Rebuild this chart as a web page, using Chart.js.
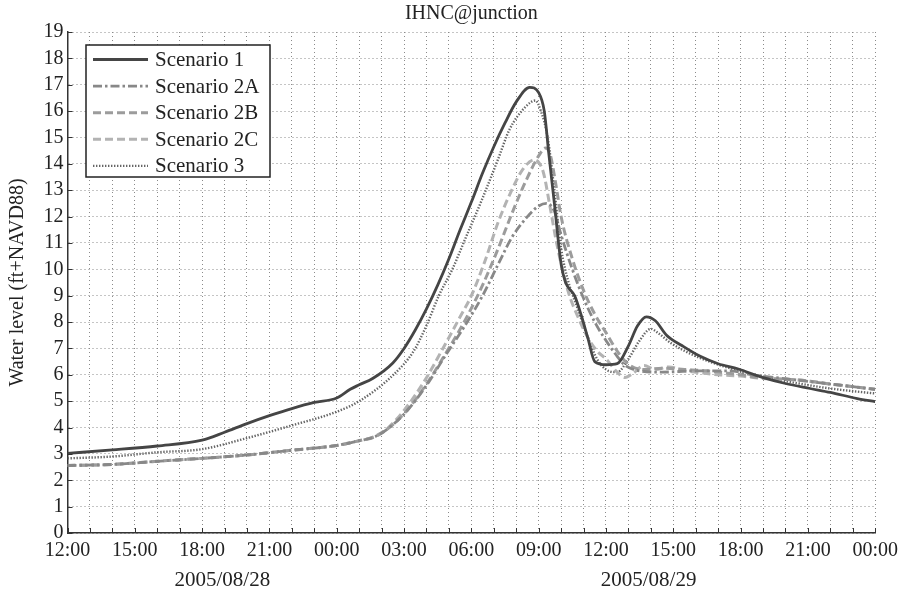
<!DOCTYPE html>
<html>
<head>
<meta charset="utf-8">
<script src="https://cdn.jsdelivr.net/npm/chart.js@4.4.1/dist/chart.umd.min.js"></script>
<style>
html,body{margin:0;padding:0;background:#fff;}
#c{display:block;}
</style>
</head>
<body>
<canvas id="c" width="904" height="593"></canvas>
<script>
// ---------- data ----------
const chartTitle = 'IHNC@junction';
const yAxisTitle = 'Water level (ft+NAVD88)';
const seriesNames = ['Scenario 1', 'Scenario 2A', 'Scenario 2B', 'Scenario 2C', 'Scenario 3'];
// x axis: hours since 2005/08/28 12:00, labels every 3 hours
const timeTickLabels = ['12:00','15:00','18:00','21:00','00:00','03:00','06:00','09:00','12:00','15:00','18:00','21:00','00:00'];
const dateLabels = ['2005/08/28', '2005/08/29'];
const dateLabelHours = [6.9, 25.9];
const yTickValues = [0,1,2,3,4,5,6,7,8,9,10,11,12,13,14,15,16,17,18,19];

const s1Hours  = [0,2,4,6,7,8,9,10,11,12,12.6,13,13.6,14.5,15,15.5,16,16.5,17,17.5,18,18.5,19,19.5,20,20.6,21,21.25,21.45,21.7,22,22.2,22.6,22.9,23.2,23.5,24,24.5,25,25.4,25.8,26.2,26.7,27.4,28.2,29,29.9,30.9,32,33.1,34,35.2,36];
const s1Levels = [3.02,3.15,3.3,3.52,3.82,4.15,4.45,4.72,4.95,5.12,5.45,5.62,5.86,6.45,7.0,7.7,8.5,9.4,10.4,11.5,12.55,13.65,14.65,15.55,16.35,16.9,16.7,16.0,14.4,12.5,10.2,9.5,9.0,8.25,7.37,6.5,6.38,6.42,7.1,7.85,8.2,8.05,7.5,7.1,6.7,6.42,6.22,5.92,5.67,5.48,5.33,5.1,4.98];

const s2aHours  = [0,2,4,6,8,10,12,13,13.7,14.3,15.1,16,16.85,17.74,18.5,19.2,19.8,20.5,21,21.35,21.7,22,22.5,23,23.5,24,24.5,24.85,25.5,26.5,28,29.5,30.5,32,34,36];
const s2aLevels = [2.56,2.6,2.72,2.83,2.96,3.14,3.32,3.5,3.65,3.97,4.6,5.6,6.74,7.9,9.0,10.2,11.2,12.0,12.4,12.5,12.2,11.3,10.0,8.9,8.0,7.3,6.7,6.36,6.15,6.1,6.15,6.15,6.0,5.85,5.65,5.45];

const s2bHours  = [0,2,4,6,8,10,12,13,13.7,14.3,15.1,16,16.85,17.74,18.5,19.2,19.8,20.4,21,21.3,21.5,21.75,22,22.5,23,23.5,24,24.5,25,25.7,26.5,27.5,28.5,30,31,32.6,34,36];
const s2bLevels = [2.56,2.6,2.72,2.83,2.96,3.14,3.32,3.5,3.65,3.97,4.62,5.65,6.8,8.1,9.4,10.8,12.1,13.3,14.3,14.6,14.4,13.3,12.0,10.4,9.2,8.3,7.6,6.9,6.4,6.2,6.25,6.2,6.15,6.0,5.88,5.8,5.65,5.45];

const s2cHours  = [0,2,4,6,8,10,12,13,13.7,14.3,15,15.9,16.7,17.5,18,18.6,19.2,19.8,20.3,20.8,21.2,21.5,21.8,22.3,22.8,23.2,23.6,24,24.5,24.85,25.2,25.7,26.2,26.8,27.5,28,29,30,31,32.6,34,36];
const s2cLevels = [2.56,2.6,2.72,2.83,2.96,3.14,3.32,3.5,3.67,4.0,4.65,5.75,6.95,8.2,9.0,10.3,11.8,13.0,13.8,14.15,13.7,12.4,11.0,9.2,8.1,7.4,6.9,6.6,6.1,5.9,6.05,6.35,6.2,6.3,6.15,6.1,6.0,5.95,5.86,5.8,5.65,5.45];

const s3Hours  = [0,2,4,6,8,10,12,13,14.5,15.4,16,16.55,17.15,17.75,18.5,19.2,19.7,20.4,20.85,21.1,21.4,21.7,22,22.3,22.7,23.2,23.6,24,24.5,25,25.5,26,26.3,26.9,28.1,29.6,31.1,32.6,34,36];
const s3Levels = [2.83,2.9,3.06,3.18,3.6,4.08,4.6,5.0,5.98,6.86,7.87,9.0,10.0,11.2,12.7,14.2,15.3,16.15,16.4,16.0,15.0,13.0,10.8,9.6,8.6,7.4,6.6,6.2,6.1,6.6,7.3,7.74,7.6,7.2,6.67,6.23,5.92,5.67,5.48,5.29];

// ---------- styling ----------
const FONT = "'Liberation Serif', 'Times New Roman', serif";
const pts = (hs, vs) => hs.map((h, i) => ({x: h, y: vs[i]}));

const seriesStyles = [
  {color: '#454545', width: 2.8, dash: []},
  {color: '#888888', width: 2.8, dash: [9, 3, 2.5, 3]},
  {color: '#9c9c9c', width: 3, dash: [8, 4]},
  {color: '#b3b3b3', width: 3, dash: [8, 4]},
  {color: '#666666', width: 2.4, dash: [1.4, 1.6]}
];
const seriesData = [pts(s1Hours, s1Levels), pts(s2aHours, s2aLevels), pts(s2bHours, s2bLevels), pts(s2cHours, s2cLevels), pts(s3Hours, s3Levels)];

const datasets = seriesNames.map((name, i) => ({
  label: name,
  data: seriesData[i],
  borderColor: seriesStyles[i].color,
  borderWidth: seriesStyles[i].width,
  borderDash: seriesStyles[i].dash,
  pointRadius: 0,
  fill: false,
  cubicInterpolationMode: 'monotone',
  borderCapStyle: 'butt'
}));

// ---------- plugins ----------
const extrasPlugin = {
  id: 'extras',
  afterDraw(chart) {
    const ctx = chart.ctx;
    const xs = chart.scales.x, ys = chart.scales.y;
    const area = chart.chartArea;
    ctx.save();
    // inward tick marks
    ctx.strokeStyle = '#333';
    ctx.lineWidth = 1;
    ctx.setLineDash([]);
    ctx.beginPath();
    for (let h = 0; h <= 36; h++) {
      const px = Math.round(xs.getPixelForValue(h)) + 0.5;
      ctx.moveTo(px, area.bottom);
      ctx.lineTo(px, area.bottom - 5);
    }
    yTickValues.forEach(v => {
      const py = Math.round(ys.getPixelForValue(v)) + 0.5;
      ctx.moveTo(area.left, py);
      ctx.lineTo(area.left + 5, py);
    });
    ctx.stroke();

    // title
    ctx.fillStyle = '#222';
    ctx.font = "20px " + FONT;
    ctx.textAlign = 'center';
    ctx.textBaseline = 'middle';
    ctx.fillText(chartTitle, (area.left + area.right) / 2, 14);

    // date labels
    ctx.font = "21px " + FONT;
    dateLabels.forEach((d, i) => {
      ctx.fillText(d, xs.getPixelForValue(dateLabelHours[i]), 580);
    });

    // legend
    const bx = 86, by = 45, bw = 184, bh = 132;
    ctx.fillStyle = '#fff';
    ctx.fillRect(bx, by, bw, bh);
    ctx.strokeStyle = '#222';
    ctx.lineWidth = 1.5;
    ctx.strokeRect(bx, by, bw, bh);
    chart.data.datasets.forEach((ds, i) => {
      const ly = by + 14.5 + i * 26.6;
      ctx.save();
      ctx.strokeStyle = ds.borderColor;
      ctx.lineWidth = ds.borderWidth;
      ctx.setLineDash(ds.borderDash);
      ctx.beginPath();
      ctx.moveTo(bx + 7, ly);
      ctx.lineTo(bx + 62, ly);
      ctx.stroke();
      ctx.restore();
      ctx.fillStyle = '#222';
      ctx.textAlign = 'left';
      ctx.textBaseline = 'middle';
      ctx.font = "21px " + FONT;
      ctx.fillText(ds.label, bx + 69, ly + 1);
    });
    ctx.restore();
  }
};

const gridCommon = {color: '#8a8a8a', lineWidth: 1, drawTicks: false};
const borderCommon = {display: true, color: '#333', width: 1.5, dash: [1, 3]};

new Chart(document.getElementById('c'), {
  type: 'line',
  data: {datasets},
  options: {
    responsive: false,
    animation: false,
    devicePixelRatio: 1,
    layout: {padding: {top: 32, right: 26.5, left: 0, bottom: 0}},
    plugins: {legend: {display: false}, title: {display: false}, tooltip: {enabled: false}},
    scales: {
      x: {
        type: 'linear', min: 0, max: 36,
        ticks: {
          stepSize: 1, autoSkip: false, maxRotation: 0, minRotation: 0,
          color: '#222', font: {family: FONT, size: 20}, padding: 6,
          callback: (v) => (v % 3 === 0 ? timeTickLabels[v / 3] : '')
        },
        grid: gridCommon,
        border: borderCommon,
        afterFit: (s) => { s.height = 60; }
      },
      y: {
        min: 0, max: 19,
        ticks: {stepSize: 1, autoSkip: false, color: '#222', font: {family: FONT, size: 20}, padding: 4,
          callback: (v) => String(v)},
        grid: gridCommon,
        border: borderCommon,
        title: {display: true, text: yAxisTitle, color: '#222', font: {family: FONT, size: 20}, padding: {top: 6, bottom: 0}},
        afterFit: (s) => { s.width = 67.5; }
      }
    }
  },
  plugins: [extrasPlugin]
});
</script>
</body>
</html>
